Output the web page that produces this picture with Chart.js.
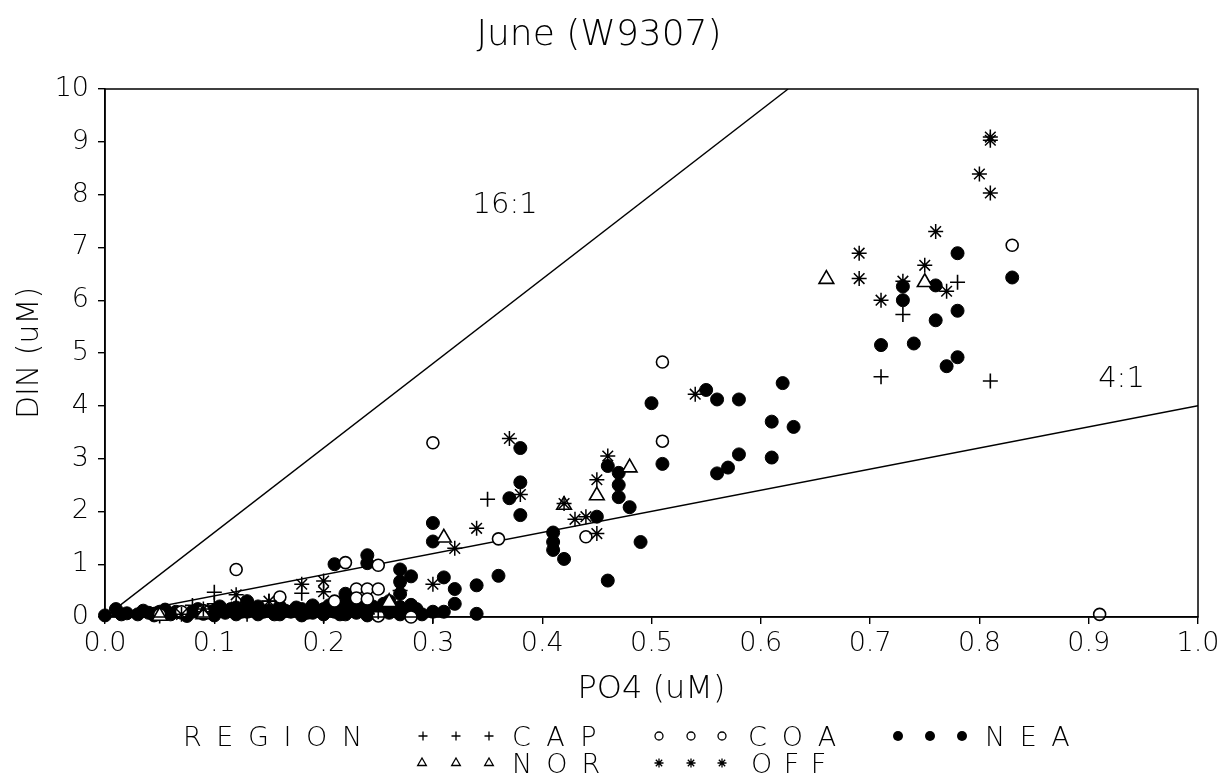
<!DOCTYPE html>
<html><head><meta charset="utf-8">
<script src="https://cdn.jsdelivr.net/npm/chart.js@4.4.1/dist/chart.umd.min.js"></script>
<style>
html,body{margin:0;padding:0;background:#fff;}
#wrap{position:relative;width:1226px;height:777px;overflow:hidden;background:#fff;}
canvas{position:absolute;left:0;top:0;}
.lg{position:absolute;font-family:"DejaVu Sans";font-weight:200;font-size:27px;line-height:27px;color:#000;white-space:nowrap;}
</style></head>
<body><div id="wrap"><canvas id="c" width="1226" height="777"></canvas></div>
<script>
// ---------- DATA ----------
const titleText = 'June (W9307)';
const xAxisTitle = 'PO4 (uM)';
const yAxisTitle = 'DIN (uM)';
const xTickLabels = ['0.0','0.1','0.2','0.3','0.4','0.5','0.6','0.7','0.8','0.9','1.0'];
const yTickLabels = ['0','1','2','3','4','5','6','7','8','9','10'];
const legendTitle = 'REGION';
const seriesNames = ['CAP','COA','NEA','NOR','OFF'];
const ratios = [16, 4];
const ratioLabels = ['16:1', '4:1'];

const capPO4 = [0.05,0.08,0.09,0.10,0.10,0.13,0.15,0.18,0.20,0.24,0.25,0.30,0.35,0.71,0.73,0.78,0.81];
const capDIN = [0.02,0.22,0.10,0.47,0.25,0.05,0.30,0.45,0.03,0.06,0.10,0.02,2.23,4.55,5.73,6.34,4.47];

const coaPO4 = [0.05,0.07,0.09,0.12,0.16,0.21,0.22,0.23,0.24,0.25,0.23,0.24,0.25,0.25,0.28,0.30,0.36,0.44,0.51,0.51,0.83,0.91];
const coaDIN = [0.05,0.10,0.12,0.90,0.38,0.30,1.03,0.53,0.53,0.53,0.36,0.34,0.98,0.02,0.00,3.30,1.48,1.52,4.83,3.33,7.04,0.05];

const neaPO4 = [0.00,0.01,0.02,0.03,0.04,0.05,0.06,0.07,0.08,0.09,0.10,0.10,0.11,0.12,0.12,0.13,0.13,0.14,0.14,0.15,0.16,0.16,0.17,0.18,0.18,0.19,0.19,0.20,0.20,0.21,0.21,0.22,0.22,0.23,0.23,0.24,0.24,0.25,0.25,0.26,0.26,0.27,0.27,0.28,
  0.015,0.035,0.045,0.055,0.065,0.075,0.085,0.095,0.105,0.115,0.125,0.135,0.145,0.155,0.165,0.175,0.185,0.195,0.205,0.215,0.225,0.235,0.245,0.255,0.265,0.275,0.285,0.29,
  0.21,0.22,0.22,0.23,0.24,0.24,0.27,0.28,0.27,0.27,0.26,0.27,0.28,0.28,0.30,0.30,0.31,0.32,0.32,0.30,0.31,0.34,0.34,0.36,0.37,0.38,0.38,0.38,0.41,0.41,0.41,0.42,0.45,0.46,0.47,0.47,0.47,0.48,0.46,0.49,0.50,0.51,
  0.55,0.56,0.58,0.62,0.61,0.63,0.61,0.58,0.57,0.56,0.71,0.74,0.76,0.78,0.78,0.77,0.73,0.73,0.76,0.78,0.83];
const neaDIN = [0.03,0.15,0.07,0.05,0.08,0.10,0.05,0.08,0.10,0.06,0.03,0.12,0.08,0.05,0.18,0.10,0.30,0.05,0.20,0.12,0.05,0.20,0.10,0.15,0.03,0.08,0.22,0.05,0.15,0.10,0.25,0.05,0.18,0.23,0.08,0.12,0.03,0.15,0.05,0.20,0.08,0.05,0.17,0.06,
  0.05,0.12,0.03,0.14,0.10,0.02,0.15,0.10,0.20,0.15,0.10,0.15,0.10,0.05,0.12,0.18,0.08,0.12,0.22,0.05,0.28,0.15,0.20,0.25,0.15,0.10,0.15,0.05,
  1.00,0.44,0.32,0.23,1.17,1.02,0.90,0.77,0.67,0.44,0.30,0.19,0.23,0.06,1.78,1.43,0.75,0.53,0.25,0.10,0.10,0.60,0.06,0.78,2.25,3.20,2.55,1.93,1.60,1.42,1.27,1.10,1.90,2.86,2.73,2.50,2.27,2.08,0.69,1.42,4.05,2.90,
  4.30,4.12,4.12,4.43,3.70,3.60,3.02,3.08,2.83,2.72,5.15,5.18,5.62,5.80,4.92,4.75,6.00,6.26,6.28,6.89,6.43];

const norPO4 = [0.05,0.09,0.26,0.31,0.42,0.45,0.48,0.66,0.75];
const norDIN = [0.02,0.05,0.28,1.50,2.12,2.30,2.83,6.40,6.34];

const offPO4 = [0.07,0.09,0.12,0.12,0.15,0.18,0.20,0.20,0.27,0.30,0.32,0.34,0.37,0.38,0.42,0.43,0.44,0.45,0.45,0.46,0.54,0.69,0.69,0.71,0.73,0.75,0.76,0.77,0.80,0.81,0.81,0.81];
const offDIN = [0.05,0.15,0.42,0.19,0.30,0.62,0.68,0.48,0.50,0.62,1.30,1.68,3.38,2.32,2.15,1.85,1.90,1.58,2.60,3.05,4.22,6.89,6.41,6.00,6.36,6.66,7.30,6.17,8.39,9.09,9.03,8.03];

// ---------- STYLE / LAYOUT ----------
const FONT = '"DejaVu Sans", "Liberation Sans", sans-serif';
const ratioLabelAnchors = [[0.366, 7.8], [0.93, 4.5]];
const legendRows = [736, 763];

function pts(xs, ys){ return xs.map((x,i)=>({x:x, y:ys[i]})); }

const markerStyles = {
  CAP:{pointStyle:'cross', radius:7.5, bg:'#000', bw:1.6, lr:4.5},
  COA:{pointStyle:'circle', radius:6, bg:'#fff', bw:1.6, lr:4},
  NEA:{pointStyle:'circle', radius:6.5, bg:'#000', bw:1, lr:5},
  NOR:{pointStyle:'triangle', radius:8.5, bg:'#fff', bw:1.6, lr:5},
  OFF:{pointStyle:'star', radius:7.5, bg:'#000', bw:1.5, lr:4.5}
};
const seriesData = {CAP:[capPO4,capDIN], COA:[coaPO4,coaDIN], NEA:[neaPO4,neaDIN], NOR:[norPO4,norDIN], OFF:[offPO4,offDIN]};
const drawOrder = {OFF:0, NOR:1, CAP:2, COA:3, NEA:4};

const datasets = seriesNames.map(name => {
  const m = markerStyles[name];
  return {
    label: name,
    data: pts(seriesData[name][0], seriesData[name][1]),
    pointStyle: m.pointStyle, pointRadius: m.radius, pointHoverRadius: m.radius,
    pointBackgroundColor: m.bg, pointBorderColor: '#000', pointBorderWidth: m.bw,
    backgroundColor: m.bg, borderColor: '#000', showLine: false, clip: false,
    order: drawOrder[name]
  };
});
ratios.forEach((r, i) => {
  const xEnd = Math.min(1, 10 / r);
  datasets.push({
    type: 'line', label: ratioLabels[i],
    data: [{x:0, y:0}, {x:xEnd, y:r * xEnd}],
    borderColor: '#000', borderWidth: 1.4, pointRadius: 0, fill: false, order: 5
  });
});

function drawMarker(ctx, style, x, y, r){
  ctx.save();
  ctx.strokeStyle = '#000'; ctx.lineWidth = 1.3;
  ctx.beginPath();
  if (style === 'cross') {
    ctx.moveTo(x - r, y); ctx.lineTo(x + r, y); ctx.moveTo(x, y - r); ctx.lineTo(x, y + r); ctx.stroke();
  } else if (style === 'star') {
    for (let k = 0; k < 4; k++) { const a = k * Math.PI / 4; ctx.moveTo(x - r*Math.sin(a), y - r*Math.cos(a)); ctx.lineTo(x + r*Math.sin(a), y + r*Math.cos(a)); }
    ctx.stroke();
  } else if (style === 'triangle') {
    ctx.moveTo(x, y - r); ctx.lineTo(x + r*0.866, y + r*0.5); ctx.lineTo(x - r*0.866, y + r*0.5); ctx.closePath(); ctx.stroke();
  } else if (style === 'circle-open') {
    ctx.arc(x, y, r, 0, Math.PI*2); ctx.stroke();
  } else {
    ctx.fillStyle = '#000'; ctx.arc(x, y, r, 0, Math.PI*2); ctx.fill();
  }
  ctx.restore();
}

// legend layout: [seriesName, row, marker x positions, text left, letter spacing]
const legendLayout = [
  ['CAP', 0, [423,456,489], 512, 15.5],
  ['COA', 0, [659,691,722], 748, 15],
  ['NEA', 0, [898,930,962], 985, 14.5],
  ['NOR', 1, [422,456,489], 512, 14],
  ['OFF', 1, [659,691,722], 751, 11.5]
];

const framePlugin = {
  id: 'frame',
  afterDraw(chart){
    const {ctx, chartArea:a, scales:{x, y}} = chart;
    ctx.save();
    ctx.strokeStyle = '#000'; ctx.lineWidth = 1.5;
    ctx.strokeRect(a.left, a.top, a.right - a.left, a.bottom - a.top);
    ctx.fillStyle = '#000';
    ctx.font = '200 29px ' + FONT;
    ctx.textAlign = 'center'; ctx.textBaseline = 'middle';
    ratioLabels.forEach((t, i) => {
      ctx.fillText(t, x.getPixelForValue(ratioLabelAnchors[i][0]), y.getPixelForValue(ratioLabelAnchors[i][1]));
    });
    legendLayout.forEach(([name, row, xs]) => {
      const m = markerStyles[name];
      let st = m.pointStyle;
      if (st === 'circle' && m.bg === '#fff') st = 'circle-open';
      xs.forEach(px => drawMarker(ctx, st, px, legendRows[row], m.lr));
    });
    ctx.restore();
  }
};

new Chart(document.getElementById('c').getContext('2d'), {
  type: 'scatter',
  data: { datasets },
  options: {
    responsive: false, animation: false, devicePixelRatio: 1,
    layout: { padding: { left: 0, right: 28, top: 0, bottom: 65 } },
    plugins: {
      legend: { display: false }, tooltip: { enabled: false },
      title: { display: true, text: titleText, color: '#000',
        font: { family: FONT, size: 36, weight: 200, lineHeight: 1.2 }, padding: { top: 14, bottom: 31.8 } }
    },
    scales: {
      x: {
        type: 'linear', min: 0, max: 1,
        afterFit(s){ s.height = 95; },
        ticks: { stepSize: 0.1, autoSkip: false, maxRotation: 0, color: '#000', padding: 4,
          font: { family: FONT, size: 27, weight: 200 },
          callback: (v, i) => xTickLabels[i] },
        grid: { display: true, drawOnChartArea: false, drawTicks: true, tickLength: 7, color: '#000', lineWidth: 1.4 },
        border: { display: true, color: '#000', width: 1.5 },
        title: { display: true, text: xAxisTitle, color: '#000',
          font: { family: FONT, size: 32, weight: 200, lineHeight: 1.2 }, padding: { top: 0, bottom: 3 } }
      },
      y: {
        type: 'linear', min: 0, max: 10,
        afterFit(s){ s.width = 105; },
        ticks: { stepSize: 1, autoSkip: false, color: '#000', padding: 9,
          font: { family: FONT, size: 27, weight: 200 },
          callback: (v, i) => yTickLabels[i] },
        grid: { display: true, drawOnChartArea: false, drawTicks: true, tickLength: 7, color: '#000', lineWidth: 1.4 },
        border: { display: true, color: '#000', width: 1.5 },
        title: { display: true, text: yAxisTitle, color: '#000',
          font: { family: FONT, size: 30, weight: 200, lineHeight: 1.2 }, padding: { top: 12, bottom: 0 } }
      }
    }
  },
  plugins: [framePlugin]
});

// HTML legend text
const wrap = document.getElementById('wrap');
function addText(txt, left, row, ls){
  const d = document.createElement('div');
  d.className = 'lg'; d.textContent = txt;
  d.style.left = left + 'px'; d.style.top = (legendRows[row] - 13.5) + 'px';
  d.style.letterSpacing = ls + 'px';
  wrap.appendChild(d);
}
addText(legendTitle, 183, 0, 14.6);
legendLayout.forEach(([name, row, xs, left, ls]) => addText(name, left, row, ls));
</script>
</body></html>
